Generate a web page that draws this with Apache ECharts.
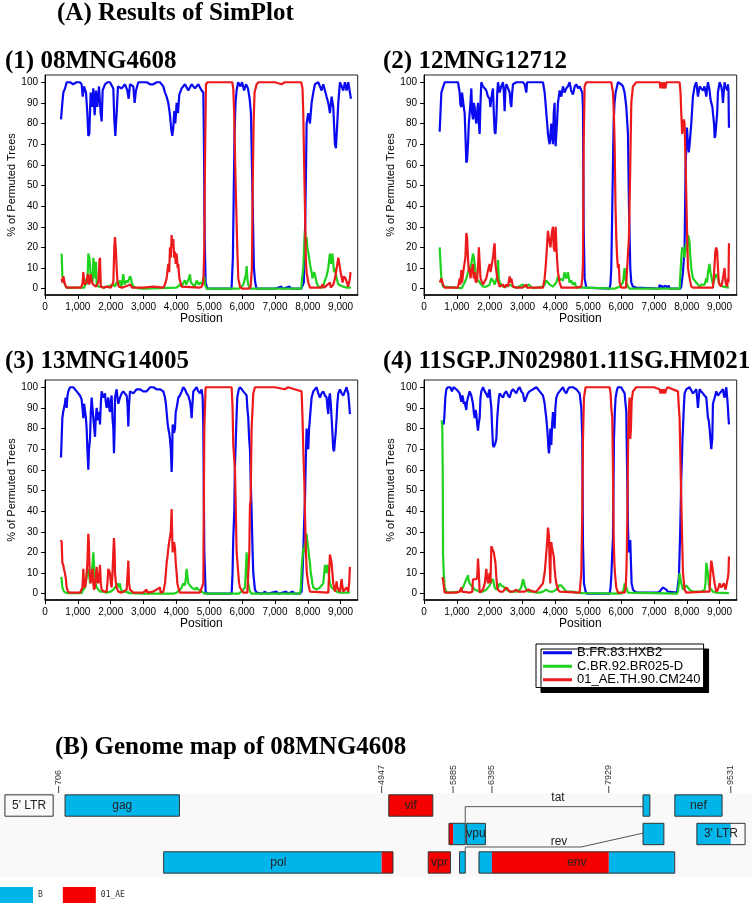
<!DOCTYPE html>
<html>
<head>
<meta charset="utf-8">
<script src="https://cdn.jsdelivr.net/npm/echarts@6/dist/echarts.min.js"></script>
<style>html,body{margin:0;padding:0;background:#fff;}#c{width:752px;height:905px;}</style>
</head>
<body>
<div id="c"></div>
<script>
// ---------- text ----------
const mainTitleA = '(A) Results of SimPlot';
const mainTitleB = '(B) Genome map of 08MNG4608';
const panelTitles = ['(1) 08MNG4608', '(2) 12MNG12712', '(3) 13MNG14005', '(4) 11SGP.JN029801.11SG.HM021'];
const seriesNames = ['B.FR.83.HXB2', 'C.BR.92.BR025-D', '01_AE.TH.90.CM240'];
const xTickValues = [0, 1000, 2000, 3000, 4000, 5000, 6000, 7000, 8000, 9000];
const yTickValues = [0, 10, 20, 30, 40, 50, 60, 70, 80, 90, 100];

// ---------- SimPlot values: [position, % of permuted trees] ----------
const p1Blue = [[487,82],[528,90],[558,95],[609,97],[660,100],[760,100],[860,99],[960,100],[1060,100],[1116,99],[1147,93],[1187,98],[1248,95],[1289,85],[1319,74],[1349,75],[1390,95],[1431,88],[1471,97],[1512,84],[1552,96],[1593,88],[1644,98],[1694,85],[1725,81],[1755,96],[1826,99],[1900,100],[1978,100],[2080,97],[2110,82],[2141,74],[2181,85],[2222,98],[2334,97],[2435,99],[2506,96],[2547,92],[2587,99],[2689,98],[2729,90],[2770,96],[2841,100],[2950,100],[3095,100],[3200,99],[3297,99],[3400,100],[3500,100],[3602,98],[3653,95],[3703,93],[3754,90],[3805,84],[3845,77],[3876,74],[3906,78],[3937,86],[3967,80],[4008,90],[4048,85],[4089,94],[4160,97],[4261,99],[4363,96],[4464,99],[4566,97],[4667,99],[4769,96],[4820,95],[4840,70],[4860,25],[4890,3],[4940,0],[5200,0],[5500,0],[5680,0],[5720,15],[5745,45],[5770,75],[5800,90],[5833,96],[5880,100],[5950,98],[6000,100],[6060,96],[6120,99],[6180,97],[6230,92],[6270,85],[6300,60],[6330,35],[6360,10],[6400,3],[6440,0],[7000,0],[7200,1],[7230,0],[7450,1],[7480,0],[7800,0],[7880,3],[7914,25],[7944,55],[7964,80],[8015,85],[8066,80],[8117,90],[8168,95],[8219,99],[8320,100],[8421,96],[8472,99],[8523,96],[8573,93],[8624,90],[8675,85],[8726,93],[8776,88],[8827,70],[8857,68],[8898,80],[8929,90],[8979,100],[9081,96],[9131,100],[9182,96],[9233,100],[9284,100],[9314,92]];
const p1Green = [[507,17],[528,6],[558,5],[580,3],[609,2],[660,0.5],[1200,0.5],[1268,5],[1290,2],[1319,17],[1349,15],[1370,12],[1390,5],[1420,8],[1450,3],[1471,15],[1500,10],[1522,5],[1552,13],[1573,2],[1623,1],[1700,1],[1800,0.5],[2080,2],[2130,1],[2181,3],[2230,2],[2283,4],[2330,1],[2384,7],[2420,2],[2486,4],[2520,3],[2587,6],[2620,5],[2638,3],[2689,1],[2800,0.3],[3000,0],[4000,0.5],[4109,2],[4160,1],[4220,3],[4261,4],[4300,2],[4380,5],[4414,7],[4440,3],[4500,2],[4560,1],[4617,4],[4680,2],[4718,3],[4780,2],[4820,5],[4850,6],[4870,2],[4921,0],[5900,0],[5986,1],[6040,2],[6088,5],[6120,7],[6138,11],[6160,5],[6189,2],[6240,0],[7800,0],[7830,5],[7863,10],[7890,20],[7914,28],[7940,22],[7964,25],[7990,20],[8015,20],[8040,15],[8066,12],[8090,10],[8117,8],[8140,5],[8168,5],[8200,8],[8219,8],[8269,3],[8320,1],[8371,1],[8450,0.5],[8523,4],[8570,6],[8625,10],[8650,14],[8675,17],[8700,12],[8726,15],[8750,17],[8776,17],[8800,8],[8827,10],[8878,5],[8930,2],[8979,2],[9081,1],[9200,0.5],[9314,0.5]];
const p1Red = [[507,5],[528,3],[558,6],[609,2],[660,0.5],[1100,0.5],[1147,3],[1167,8],[1200,2],[1268,3],[1300,7],[1319,5],[1349,2],[1390,7],[1431,3],[1471,2],[1552,1],[1623,3],[1660,14],[1674,15],[1700,1],[1780,0.5],[1877,1],[2000,0.5],[2080,3],[2110,20],[2131,25],[2160,18],[2181,10],[2210,3],[2250,1],[2350,0.5],[2600,2],[2650,0.5],[3000,0.5],[3300,1],[3350,0.5],[3600,0.5],[3653,2],[3703,5],[3754,12],[3780,8],[3805,20],[3830,15],[3855,26],[3880,20],[3906,24],[3930,15],[3957,18],[3980,12],[4008,17],[4040,10],[4058,12],[4090,5],[4109,4],[4160,1],[4200,0.5],[4700,0.5],[4769,1],[4820,3],[4850,20],[4870,60],[4900,99],[4950,100],[5300,100],[5700,100],[5732,97],[5760,85],[5790,60],[5813,45],[5853,20],[5884,5],[5935,1],[6000,0],[6200,0],[6260,1],[6300,10],[6320,45],[6350,80],[6380,95],[6443,99],[6500,100],[7000,100],[7200,99],[7300,100],[7500,100],[7800,100],[7840,97],[7863,85],[7890,60],[7914,40],[7940,15],[7964,8],[8015,3],[8066,0.5],[8400,0.5],[8450,2],[8500,0.5],[8675,3],[8700,0.5],[8776,2],[8830,5],[8878,5],[8930,15],[8979,15],[9000,8],[9030,8],[9060,3],[9100,6],[9150,5],[9183,5],[9233,1],[9260,0.5],[9284,5],[9300,8],[9314,8]];

const p2Blue = [[477,76],[507,76],[528,95],[578,95],[629,100],[680,100],[1035,100],[1086,95],[1110,89],[1136,88],[1160,95],[1187,95],[1210,88],[1238,85],[1260,75],[1289,61],[1310,62],[1339,70],[1365,80],[1390,85],[1415,90],[1441,97],[1465,85],[1491,82],[1515,90],[1542,88],[1565,83],[1593,80],[1620,86],[1644,90],[1670,80],[1694,75],[1720,90],[1745,100],[1796,98],[1850,97],[1897,96],[1950,93],[1999,92],[2020,88],[2050,88],[2075,95],[2100,97],[2125,85],[2151,76],[2175,75],[2202,82],[2230,95],[2253,100],[2303,95],[2350,98],[2405,100],[2430,95],[2455,86],[2480,97],[2506,99],[2560,97],[2608,95],[2635,90],[2658,88],[2685,95],[2709,99],[2810,100],[2912,100],[3013,100],[3064,99],[3115,95],[3140,100],[3318,100],[3521,100],[3622,100],[3673,95],[3700,90],[3724,85],[3750,80],[3774,75],[3800,72],[3825,70],[3850,75],[3876,80],[3900,73],[3927,70],[3950,85],[3977,90],[3990,75],[4008,69],[4028,75],[4048,80],[4079,90],[4129,96],[4180,93],[4231,98],[4280,95],[4332,97],[4380,98],[4433,100],[4480,96],[4535,94],[4590,98],[4637,99],[4690,97],[4738,98],[4789,96],[4820,95],[4840,87],[4860,30],[4890,5],[4941,0.5],[5000,0],[5651,0],[5680,3],[5702,10],[5733,40],[5773,80],[5800,90],[5834,95],[5905,100],[6000,99],[6057,98],[6108,95],[6159,88],[6190,80],[6209,75],[6240,40],[6280,10],[6311,3],[6361,1],[6463,0.5],[6500,0],[7150,0],[7173,2],[7200,0.5],[7250,1.5],[7280,0.5],[7350,1.5],[7400,0.5],[7450,1.5],[7478,0],[7800,0],[7833,1],[7884,8],[7934,20],[7965,60],[8005,78],[8036,70],[8060,66],[8087,70],[8137,80],[8188,93],[8239,98],[8290,100],[8340,93],[8391,98],[8440,97],[8492,96],[8540,98],[8594,93],[8620,97],[8645,100],[8695,96],[8720,92],[8746,90],[8780,88],[8797,85],[8830,80],[8848,73],[8870,74],[8898,74],[8925,85],[8949,95],[9000,100],[9050,98],[9080,95],[9101,90],[9130,96],[9152,100],[9180,97],[9203,98],[9230,96],[9253,99],[9270,96],[9284,78]];
const p2Green = [[477,20],[507,20],[528,5],[578,1],[629,0.3],[1150,0.3],[1187,1],[1238,3],[1289,5],[1339,8],[1390,8],[1441,12],[1491,17],[1520,15],[1542,12],[1570,8],[1593,5],[1650,5],[1694,3],[1745,2],[1796,1],[1900,1],[1999,2],[2050,5],[2100,4],[2150,2],[2202,2],[2230,6],[2253,14],[2280,5],[2303,3],[2405,1],[2506,1],[2608,2],[2709,1],[2810,0.5],[3013,2],[3064,1],[3115,1],[3200,2],[3250,1],[3318,0.3],[3622,1],[3673,2],[3724,4],[3774,3],[3825,2],[3927,1],[4028,3],[4079,6],[4110,4],[4129,5],[4180,5],[4230,4],[4281,8],[4300,6],[4332,5],[4380,8],[4433,3],[4480,4],[4535,2],[4590,3],[4637,0.5],[4840,0.5],[4890,0],[5800,0],[5854,0.5],[5955,1],[6057,3],[6090,8],[6108,10],[6130,5],[6159,3],[6209,1],[6260,0],[7782,0],[7833,15],[7860,20],[7884,20],[7910,18],[7934,15],[7960,20],[7985,22],[8010,18],[8036,26],[8060,25],[8087,22],[8110,15],[8137,10],[8188,5],[8240,5],[8290,3],[8340,2],[8391,1],[8450,2],[8544,2],[8594,5],[8620,3],[8645,8],[8670,10],[8695,12],[8720,8],[8746,6],[8797,2],[8850,5],[8898,7],[8949,5],[9000,2],[9101,1],[9284,0.5]];
const p2Red = [[477,3],[507,4],[528,5],[578,2],[629,0.5],[1035,0.5],[1086,5],[1110,2],[1136,9],[1160,3],[1187,3],[1210,10],[1238,10],[1260,15],[1289,27],[1310,25],[1339,15],[1365,8],[1390,10],[1415,5],[1441,5],[1465,10],[1491,12],[1515,5],[1542,8],[1565,4],[1593,3],[1620,5],[1650,12],[1670,20],[1694,20],[1720,5],[1745,5],[1796,2],[1850,2],[1897,5],[1950,9],[1999,12],[2025,8],[2050,8],[2100,15],[2130,20],[2151,22],[2175,12],[2202,12],[2230,5],[2253,5],[2303,1],[2405,2],[2455,0.5],[2506,2],[2560,1],[2608,6],[2635,3],[2658,5],[2709,1],[2810,0.5],[3000,0.5],[3115,2],[3140,0.5],[3622,0.5],[3673,5],[3700,10],[3724,15],[3750,22],[3774,28],[3800,25],[3825,25],[3850,20],[3876,20],[3900,28],[3927,30],[3950,20],[3977,18],[3990,25],[4008,30],[4028,22],[4048,15],[4079,8],[4129,3],[4180,0.5],[4637,0.5],[4789,1],[4820,5],[4840,12],[4860,70],[4890,98],[4941,100],[5200,100],[5500,100],[5702,100],[5753,95],[5780,85],[5804,70],[5830,40],[5854,25],[5880,15],[5905,10],[5930,12],[5955,3],[6006,0.5],[6150,0.5],[6209,1],[6240,25],[6280,60],[6311,90],[6361,98],[6463,100],[7000,100],[7173,100],[7200,97],[7230,100],[7280,97],[7310,100],[7350,97],[7380,100],[7782,100],[7810,95],[7833,85],[7860,75],[7884,75],[7910,82],[7934,80],[7965,60],[8005,30],[8036,10],[8087,5],[8137,1],[8200,0.5],[8797,0.5],[8820,5],[8848,12],[8870,18],[8898,20],[8925,18],[8949,10],[8975,3],[9000,2],[9050,1],[9101,5],[9130,8],[9152,10],[9180,3],[9203,2],[9230,1],[9253,5],[9270,3],[9284,22]];

const p3Blue = [[487,66],[507,66],[528,85],[553,88],[578,88],[605,92],[629,95],[660,90],[685,96],[710,98],[761,100],[862,100],[964,98],[1065,96],[1116,94],[1140,90],[1167,85],[1190,92],[1218,92],[1240,86],[1268,80],[1290,70],[1319,60],[1340,70],[1370,75],[1395,88],[1420,95],[1445,90],[1471,85],[1500,80],[1522,76],[1545,85],[1573,90],[1600,84],[1623,84],[1650,88],[1674,82],[1700,92],[1724,98],[1775,95],[1826,97],[1850,93],[1877,90],[1900,93],[1928,95],[1955,90],[1978,88],[2005,93],[2029,96],[2055,85],[2080,80],[2100,68],[2120,80],[2131,95],[2181,99],[2205,95],[2232,92],[2283,95],[2334,97],[2384,98],[2430,97],[2486,96],[2510,92],[2537,81],[2560,92],[2587,98],[2689,97],[2790,99],[2892,99],[2990,98],[3095,98],[3200,100],[3297,100],[3400,99],[3500,99],[3602,98],[3653,95],[3680,92],[3703,88],[3730,83],[3754,80],[3780,78],[3805,75],[3830,70],[3855,59],[3870,65],[3886,82],[3906,82],[3930,78],[3957,80],[3980,88],[4008,90],[4060,95],[4109,96],[4160,98],[4210,100],[4260,99],[4312,97],[4360,96],[4414,93],[4440,90],[4464,85],[4490,92],[4515,98],[4617,100],[4668,98],[4718,97],[4769,99],[4800,95],[4820,80],[4850,20],[4890,1],[4940,0],[5682,0],[5710,10],[5732,27],[5763,40],[5780,60],[5803,60],[5830,85],[5854,95],[5900,99],[5935,100],[5990,99],[6037,98],[6088,97],[6138,96],[6160,90],[6189,85],[6215,75],[6240,70],[6260,57],[6290,40],[6320,20],[6341,10],[6392,2],[6443,0.5],[6600,0],[6700,1],[6750,0],[7050,1],[7100,0],[7350,1],[7380,0],[7550,1],[7580,0],[7761,0],[7812,1],[7840,10],[7863,20],[7890,35],[7914,45],[7940,65],[7964,80],[7990,72],[8015,70],[8040,80],[8066,85],[8090,90],[8117,95],[8168,98],[8269,100],[8320,97],[8371,95],[8420,97],[8472,98],[8523,96],[8574,95],[8600,90],[8625,87],[8650,95],[8675,97],[8700,92],[8726,85],[8750,78],[8776,70],[8800,69],[8827,69],[8850,78],[8878,85],[8900,92],[8929,97],[8979,99],[9030,97],[9081,96],[9130,98],[9183,100],[9210,98],[9233,97],[9260,92],[9284,87]];
const p3Green = [[487,8],[507,7],[528,3],[578,1],[660,0.3],[1116,0.3],[1167,2],[1218,3],[1268,8],[1290,10],[1319,12],[1340,10],[1370,5],[1400,8],[1420,10],[1450,15],[1471,20],[1500,12],[1522,10],[1545,5],[1573,3],[1623,2],[1674,1],[1800,1],[1877,0.5],[2000,1],[2080,2],[2131,3],[2181,4],[2232,5],[2260,3],[2283,5],[2310,2],[2334,2],[2384,1],[2450,1],[2587,0.3],[3000,0],[3900,0],[4008,0.5],[4060,1],[4109,2],[4160,3],[4210,5],[4260,4],[4290,8],[4312,12],[4340,8],[4363,5],[4414,5],[4464,3],[4515,3],[4570,2],[4617,3],[4668,2],[4718,2],[4769,1],[4820,1],[4870,0],[5900,0],[5935,0.5],[6037,2],[6088,3],[6110,10],[6138,20],[6160,10],[6189,5],[6240,1],[6290,0],[7761,0],[7790,3],[7812,12],[7840,18],[7863,22],[7890,20],[7914,25],[7940,22],[7964,29],[7990,25],[8015,22],[8040,18],[8066,15],[8090,10],[8117,8],[8140,5],[8168,3],[8269,2],[8371,3],[8420,4],[8472,5],[8500,10],[8523,14],[8560,10],[8600,14],[8625,14],[8650,8],[8675,5],[8726,3],[8776,3],[8878,1],[8979,0.5],[9284,0.5]];
const p3Red = [[487,26],[507,25],[528,15],[553,14],[578,12],[605,10],[629,8],[660,3],[700,1],[761,0.5],[1065,0.5],[1140,3],[1167,12],[1190,5],[1218,3],[1240,5],[1268,10],[1290,15],[1319,29],[1335,25],[1350,15],[1370,8],[1390,5],[1420,8],[1450,12],[1471,5],[1490,2],[1520,3],[1545,8],[1573,13],[1600,6],[1623,5],[1650,8],[1674,14],[1700,5],[1724,2],[1800,1],[1877,1],[1900,5],[1928,12],[1955,11],[1978,10],[2005,5],[2029,3],[2055,10],[2080,20],[2100,27],[2120,20],[2131,10],[2160,5],[2181,3],[2232,1],[2334,0.5],[2486,2],[2510,8],[2537,16],[2560,5],[2587,2],[2689,0.5],[2990,0.5],[3095,2],[3120,0.5],[3297,1],[3320,0.5],[3500,3],[3520,0.5],[3602,1],[3653,5],[3680,10],[3703,15],[3730,18],[3754,22],[3780,25],[3805,25],[3830,30],[3855,41],[3870,30],[3886,20],[3906,22],[3930,25],[3957,22],[3980,15],[4008,10],[4030,5],[4058,3],[4109,0.5],[4718,0.5],[4769,1],[4820,5],[4850,80],[4890,100],[5200,100],[5500,100],[5682,100],[5710,90],[5732,72],[5763,72],[5783,60],[5810,40],[5834,20],[5860,15],[5884,10],[5910,5],[5935,3],[6037,0.5],[6160,0.5],[6189,1],[6220,20],[6240,43],[6260,45],[6290,80],[6320,90],[6341,97],[6392,100],[7000,100],[7300,99],[7400,100],[7600,99],[7812,98],[7840,85],[7863,70],[7894,55],[7920,35],[7944,20],[7970,10],[8015,5],[8066,1],[8100,0.5],[8625,0.5],[8650,10],[8675,19],[8700,17],[8726,15],[8750,10],[8776,5],[8827,1],[8860,4],[8878,6],[8900,3],[8929,2],[8980,1],[9030,7],[9060,3],[9081,1],[9130,2],[9183,3],[9233,1],[9260,5],[9284,13]];

const p4Blue = [[558,82],[578,83],[600,82],[620,86],[649,95],[680,99],[730,100],[800,100],[850,98],[900,100],[984,99],[1040,98],[1086,97],[1110,95],[1136,93],[1160,96],[1187,95],[1210,92],[1238,93],[1260,91],[1289,89],[1310,93],[1339,95],[1390,98],[1440,96],[1491,92],[1515,88],[1542,85],[1570,89],[1593,87],[1620,82],[1644,79],[1670,83],[1694,85],[1720,95],[1745,98],[1796,100],[1850,98],[1897,98],[1920,96],[1948,95],[1975,98],[1999,99],[2025,94],[2050,90],[2075,80],[2100,72],[2125,71],[2151,71],[2175,73],[2202,75],[2230,85],[2253,90],[2280,95],[2303,97],[2350,96],[2405,95],[2450,97],[2506,98],[2560,96],[2608,95],[2660,98],[2709,99],[2760,98],[2810,97],[2860,99],[2912,100],[2960,98],[3013,97],[3064,93],[3090,94],[3115,95],[3160,97],[3216,98],[3318,99],[3419,100],[3470,99],[3521,98],[3570,97],[3622,96],[3650,94],[3673,92],[3700,88],[3724,85],[3750,80],[3774,75],[3790,70],[3805,68],[3825,72],[3845,80],[3860,78],[3876,72],[3900,82],[3927,88],[3950,83],[3977,80],[4000,90],[4028,95],[4079,97],[4129,98],[4180,99],[4231,100],[4280,98],[4332,97],[4380,99],[4433,100],[4535,100],[4637,99],[4690,98],[4738,97],[4789,90],[4819,75],[4840,24],[4870,5],[4920,1],[4960,0],[5651,0],[5680,3],[5702,8],[5733,20],[5753,27],[5783,75],[5810,88],[5834,95],[5880,99],[5905,100],[6000,100],[6057,100],[6108,97],[6130,93],[6159,88],[6179,65],[6200,45],[6209,33],[6230,22],[6240,20],[6260,24],[6280,26],[6300,15],[6321,5],[6361,2],[6420,1],[6463,1],[6500,0.5],[7100,0.5],[7173,1],[7220,2],[7274,3],[7320,2.5],[7376,2],[7420,1],[7478,0.5],[7700,0.5],[7731,1],[7760,8],[7782,20],[7800,30],[7813,40],[7830,55],[7853,66],[7870,75],[7884,80],[7910,90],[7934,97],[7985,99],[8087,100],[8188,97],[8240,98],[8290,99],[8315,95],[8340,90],[8365,95],[8391,99],[8440,98],[8492,97],[8540,96],[8594,95],[8620,90],[8645,85],[8670,84],[8695,80],[8720,75],[8746,70],[8777,75],[8797,92],[8850,95],[8898,98],[8950,96],[9000,97],[9050,98],[9101,99],[9130,96],[9152,95],[9180,98],[9203,100],[9230,95],[9253,90],[9270,85],[9284,82]];
const p4Green = [[540,84],[558,80],[570,60],[580,19],[600,10],[629,3],[680,1],[750,0.5],[1086,1],[1136,1],[1187,3],[1238,5],[1289,7],[1315,8],[1339,9],[1365,6],[1390,5],[1440,4],[1491,3],[1542,2],[1593,2],[1700,1],[1796,1],[1900,2],[1999,4],[2050,6],[2100,7],[2125,5],[2151,3],[2202,2],[2253,3],[2303,5],[2350,4],[2405,4],[2450,3],[2506,2],[2560,2],[2608,1],[2709,1],[2810,1],[2912,2],[2960,3],[3013,7],[3040,6],[3064,4],[3115,2],[3165,1],[3318,1],[3419,0.5],[3521,0.5],[3622,1],[3724,2],[3825,1],[3927,1],[4028,2],[4079,3],[4110,4],[4180,4],[4230,3],[4281,2],[4332,1],[4433,1],[4535,1],[4637,0.5],[4840,0.3],[4900,0],[6000,0],[6057,1],[6090,3],[6108,5],[6130,4],[6159,3],[6209,0.5],[6260,0],[7700,0],[7731,1],[7760,5],[7782,10],[7800,8],[7833,5],[7884,2],[7934,3],[7985,4],[8036,3],[8087,2],[8188,1],[8290,1],[8440,1],[8544,2],[8570,5],[8594,15],[8620,12],[8645,10],[8670,5],[8695,3],[8750,2],[8797,1],[8898,0.5],[9284,0.3]];
const p4Red = [[558,8],[578,7],[609,3],[629,0.5],[984,0.5],[1086,1],[1136,3],[1160,1],[1187,1],[1390,0.5],[1470,1],[1491,7],[1540,7],[1593,7],[1620,8],[1644,17],[1670,10],[1694,0.5],[1745,1],[1796,2],[1850,5],[1897,12],[1920,8],[1948,5],[1975,8],[1999,10],[2025,5],[2050,23],[2075,22],[2100,21],[2125,20],[2151,20],[2175,15],[2202,8],[2230,3],[2253,2],[2303,1],[2405,1],[2450,2],[2506,3],[2560,2],[2608,1],[2709,1],[2810,2],[2860,1],[2912,1],[3064,1],[3165,2],[3216,2],[3318,1],[3419,1],[3470,2],[3521,3],[3570,3],[3622,5],[3650,8],[3673,10],[3700,15],[3724,20],[3750,25],[3774,32],[3790,30],[3805,28],[3825,15],[3845,5],[3860,20],[3876,25],[3900,22],[3927,20],[3950,18],[3977,12],[4000,8],[4028,5],[4079,2],[4129,1],[4180,0.5],[4738,0.5],[4789,10],[4819,40],[4840,75],[4870,95],[4920,100],[5200,100],[5500,100],[5651,100],[5680,97],[5702,90],[5733,85],[5753,60],[5773,28],[5795,15],[5813,10],[5854,3],[5905,0.5],[6108,0.5],[6140,3],[6159,10],[6175,20],[6189,35],[6205,60],[6219,80],[6240,90],[6260,95],[6280,75],[6300,80],[6321,93],[6361,98],[6463,100],[7000,100],[7173,99],[7200,97],[7230,99],[7274,97],[7300,99],[7340,97],[7376,99],[7420,100],[7731,98],[7760,90],[7782,85],[7813,60],[7853,30],[7884,10],[7934,2],[7985,0.5],[8594,1],[8650,1],[8695,1],[8720,10],[8746,16],[8770,14],[8797,14],[8820,8],[8848,5],[8898,1],[8950,2],[9000,5],[9050,3],[9101,3],[9130,5],[9152,5],[9180,2],[9203,2],[9230,6],[9253,8],[9270,10],[9284,18]];

// ---------- genome map (HXB2 coordinates) ----------
const geneNames  = ["5' LTR", 'gag', 'vif', 'tat', 'nef', 'tat', 'vpu', 'rev', "3' LTR", 'pol', 'vpr', 'rev', 'env'];
const geneLabels = ["5' LTR", 'gag', 'vif', '', 'nef', '', 'vpu', '', "3' LTR", 'pol', 'vpr', '', 'env'];
const geneStart  = [1, 790, 5041, 8379, 8797, 5831, 6062, 8379, 9086, 2085, 5559, 5970, 6225];
const geneEnd    = [634, 2292, 5619, 8469, 9417, 6045, 6310, 8653, 9719, 5096, 5850, 6045, 8795];
const geneRow    = [1, 1, 1, 1, 1, 2, 2, 2, 2, 3, 3, 3, 3];
// subtype segments
const segB_start  = [790, 2085, 5885, 5970, 6062, 6225, 7929, 8379, 8379, 8797, 9086];
const segB_end    = [2292, 4947, 6045, 6045, 6310, 6395, 8795, 8469, 8653, 9417, 9531];
const segB_row    = [1, 3, 2, 3, 2, 3, 3, 1, 2, 1, 2];
const segAE_start = [4947, 5041, 5559, 5831, 6395];
const segAE_end   = [5096, 5619, 5850, 5885, 7929];
const segAE_row   = [3, 1, 3, 2, 3];
const breakpoints = [706, 4947, 5885, 6395, 7929, 9531];
const tatConnector = [[6045, 1.625], [6045, 1.04], [8379, 1.04]];
const revConnector = [[6045, 2.625], [6045, 2.456], [7565, 2.456], [8379, 1.97]];
const connectorNames = ['tat', 'rev'];
const connectorPos = [7263, 7276];
const connectorRow = [0.74, 2.28];
const subtypeNames = ['B', '01_AE'];

// ---------- styling ----------
const AXF = "'Liberation Sans',Arial,sans-serif";
const SANS = "'Liberation Sans',Arial,sans-serif";
const SERIF = "'Liberation Serif','Times New Roman',serif";
const lineColors = ['#0a0af0', '#1ed21e', '#ec1a1a'];
const mapBlue = '#00b5ea', mapRed = '#f40000';

const panelData = [[p1Blue, p1Green, p1Red], [p2Blue, p2Green, p2Red], [p3Blue, p3Green, p3Red], [p4Blue, p4Green, p4Red]];
const panelGrids = [
  {left: 45, top: 75}, {left: 424, top: 75}, {left: 45, top: 380}, {left: 424, top: 380}
];

const grids = [], xAxes = [], yAxes = [], series = [];
const titleStyle = {fontFamily: SERIF, fontWeight: 'bold', fontSize: 25, color: '#000'};
const titles = [{text: mainTitleA, left: 57, top: 1, padding: 0, textStyle: titleStyle}];
const titlePos = [[5, 49], [383, 49], [5, 349], [383, 349]];

panelGrids.forEach((g, i) => {
  grids.push({left: g.left, top: g.top, width: 312.7, height: 220, show: true, backgroundColor: '#fff',
    borderColor: '#222', borderWidth: 1});
  titles.push({text: panelTitles[i], left: titlePos[i][0], top: titlePos[i][1], padding: 0, textStyle: titleStyle});
  xAxes.push({gridIndex: i, type: 'value', min: 0, max: 9520,
    axisLine: {show: true, onZero: false, lineStyle: {color: '#000', width: 1.5}},
    axisTick: {show: true, length: 4, customValues: xTickValues, lineStyle: {color: '#000'}},
    axisLabel: {customValues: xTickValues, formatter: v => v.toLocaleString('en-US'), fontSize: 10, color: '#000', margin: 7, fontFamily: AXF},
    splitLine: {show: false},
    name: 'Position', nameLocation: 'middle', nameGap: 15, nameTextStyle: {fontSize: 12, fontFamily: AXF, color: '#000'}});
  yAxes.push({gridIndex: i, type: 'value', min: -3.05, max: 103.5,
    axisLine: {show: true, onZero: false, lineStyle: {color: '#000', width: 1}},
    axisTick: {show: true, length: 4, customValues: yTickValues, lineStyle: {color: '#000'}},
    axisLabel: {customValues: yTickValues, fontSize: 10, color: '#000', margin: 7, fontFamily: AXF},
    splitLine: {show: false},
    name: '% of Permuted Trees', nameLocation: 'middle', nameGap: 26, nameTextStyle: {fontSize: 11, fontFamily: AXF, color: '#000'}});
  panelData[i].forEach((d, k) => {
    series.push({type: 'line', name: seriesNames[k], xAxisIndex: i, yAxisIndex: i, data: d,
      color: lineColors[k], showSymbol: false, symbol: 'none', lineStyle: {width: 2.2, color: lineColors[k]},
      animation: false, silent: true, z: 2 + k});
  });
});

// genome map grid
grids.push({left: 0, top: 793, width: 752, height: 84, show: true, backgroundColor: '#f9f9f9', borderWidth: 0});
xAxes.push({gridIndex: 4, type: 'value', min: -64, max: 9810, show: false});
yAxes.push({gridIndex: 4, type: 'value', min: 0.56, max: 3.51, inverse: true, show: false});
titles.push({text: mainTitleB, left: 55, top: 735, padding: 0, textStyle: titleStyle});

const H = 0.375;
function segRender(params, api) {
  const a = api.coord([api.value(0), api.value(2) - H]);
  const b = api.coord([api.value(1), api.value(2) + H]);
  return {type: 'rect', shape: {x: a[0], y: a[1], width: b[0] - a[0], height: b[1] - a[1]}, style: {fill: api.visual('color')}};
}
const segB = segB_start.map((s, i) => [s, segB_end[i], segB_row[i]]);
const segAE = segAE_start.map((s, i) => [s, segAE_end[i], segAE_row[i]]);
series.push({type: 'custom', name: subtypeNames[0], xAxisIndex: 4, yAxisIndex: 4, data: segB, color: mapBlue,
  itemStyle: {color: mapBlue}, encode: {x: [0, 1], y: 2}, renderItem: segRender, animation: false, silent: true, z: 2});
series.push({type: 'custom', name: subtypeNames[1], xAxisIndex: 4, yAxisIndex: 4, data: segAE, color: mapRed,
  itemStyle: {color: mapRed}, encode: {x: [0, 1], y: 2}, renderItem: segRender, animation: false, silent: true, z: 2});

// gene outlines + labels
const genes = geneStart.map((s, i) => [s, geneEnd[i], geneRow[i], geneLabels[i]]);
series.push({type: 'custom', name: 'genes', xAxisIndex: 4, yAxisIndex: 4, data: genes, encode: {x: [0, 1], y: 2},
  animation: false, silent: true, z: 4,
  renderItem(params, api) {
    const a = api.coord([api.value(0), api.value(2) - H]);
    const b = api.coord([api.value(1), api.value(2) + H]);
    const lab = genes[params.dataIndex][3];
    return {type: 'group', children: [
      {type: 'rect', shape: {x: a[0], y: a[1], width: b[0] - a[0], height: b[1] - a[1]},
        style: {fill: 'none', stroke: '#333', lineWidth: 1}},
      {type: 'text', x: (a[0] + b[0]) / 2, y: (a[1] + b[1]) / 2,
        style: {text: lab, font: '12px ' + SANS, fill: '#222', align: 'center', verticalAlign: 'middle'}}
    ]};
  }});

// breakpoint ticks
series.push({type: 'custom', name: 'breakpoints', xAxisIndex: 4, yAxisIndex: 4, data: breakpoints.map(b => [b, 0.56]),
  encode: {x: 0, y: 1}, animation: false, silent: true, clip: false, z: 4,
  renderItem(params, api) {
    const p = api.coord([api.value(0), api.value(1)]);
    return {type: 'group', children: [
      {type: 'line', shape: {x1: p[0], y1: p[1] - 7, x2: p[0], y2: p[1]}, style: {stroke: '#444', lineWidth: 1}},
      {type: 'text', x: p[0], y: p[1] - 8, rotation: Math.PI / 2,
        style: {text: String(breakpoints[params.dataIndex]), font: '9px ' + SANS, fill: '#333', align: 'left', verticalAlign: 'middle'}}
    ]};
  }});

// tat / rev connectors
[tatConnector, revConnector].forEach(d => {
  series.push({type: 'line', xAxisIndex: 4, yAxisIndex: 4, data: d, showSymbol: false, symbol: 'none',
    lineStyle: {color: '#555', width: 1}, animation: false, silent: true, z: 3});
});
series.push({type: 'custom', name: 'connLabels', xAxisIndex: 4, yAxisIndex: 4,
  data: connectorPos.map((p, i) => [p, connectorRow[i]]), encode: {x: 0, y: 1}, animation: false, silent: true, z: 4,
  renderItem(params, api) {
    const p = api.coord([api.value(0), api.value(1)]);
    return {type: 'text', x: p[0], y: p[1],
      style: {text: connectorNames[params.dataIndex], font: '12px ' + SANS, fill: '#222', align: 'center', verticalAlign: 'middle'}};
  }});

const option = {
  backgroundColor: '#fff',
  animation: false,
  title: titles,
  grid: grids,
  xAxis: xAxes,
  yAxis: yAxes,
  legend: [
    {data: seriesNames, orient: 'vertical', left: 536, top: 644, icon: 'rect', itemWidth: 29, itemHeight: 3, itemGap: 0,
      selectedMode: false, padding: [2, 3, 1, 7], backgroundColor: '#fff', borderColor: '#000', borderWidth: 1,
      shadowColor: '#000', shadowBlur: 0, shadowOffsetX: 5, shadowOffsetY: 5,
      textStyle: {fontSize: 13, fontFamily: SANS, color: '#000', lineHeight: 13.5, padding: 0}},
    {data: subtypeNames, orient: 'horizontal', left: 0, top: 887, icon: 'rect', itemWidth: 33, itemHeight: 16, itemGap: 20,
      selectedMode: false, padding: 0,
      textStyle: {fontSize: 8, fontFamily: "'DejaVu Sans Mono',monospace", color: '#333'}}
  ],
  series: series
};

const chart = echarts.init(document.getElementById('c'), null, {renderer: 'canvas', width: 752, height: 905});
chart.setOption(option);
</script>
</body>
</html>
